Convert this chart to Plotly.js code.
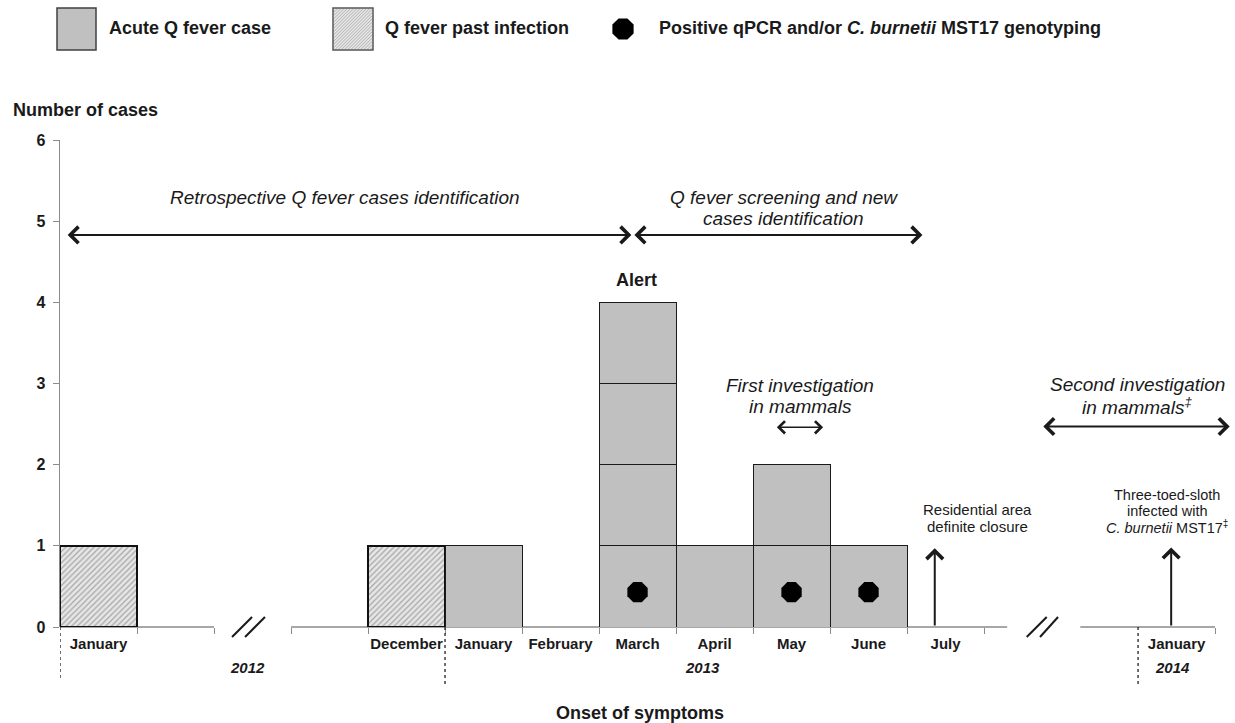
<!DOCTYPE html>
<html><head><meta charset="utf-8">
<script src="https://cdn.plot.ly/plotly-3.0.1.min.js"></script>
<style>html,body{margin:0;padding:0;background:#fff}</style>
</head><body><div id="chart" style="width:1235px;height:723px"></div>
<script>
// ---------------- DATA ----------------
const months = ['2012-01','2012-12','2013-01','2013-02','2013-03','2013-04','2013-05','2013-06','2013-07','2014-01'];
const monthLabels = ['January','December','January','February','March','April','May','June','July','January'];
const acuteCases = [0,0,1,0,4,1,2,1,0,0];
const pastInfections = [1,1,0,0,0,0,0,0,0,0];
const positivePCR = [0,0,0,0,1,0,1,1,0,0];
const yearLabels = ['2012','2013','2014'];
const yTicks = [0,1,2,3,4,5,6];

// ---------------- BROKEN TIME AXIS ----------------
// each axis segment starts at a given month and a given axis offset (1 unit = 1 month)
const segments = [{from:'2012-01', pos:0}, {from:'2012-11', pos:3}, {from:'2013-12', pos:13}];
function mIdx(s){const [y,m]=s.split('-').map(Number);return y*12+(m-1);}
function slotStart(s){
  let seg=segments[0];
  segments.forEach(g=>{ if(mIdx(g.from)<=mIdx(s)) seg=g; });
  return seg.pos + (mIdx(s)-mIdx(seg.from));
}
const xc = months.map(m=>slotStart(m)+0.5);

// ---------------- TRACES ----------------
const FONT = 'Liberation Sans, Arial, sans-serif';
const traces = [];
traces.push({
  type:'bar', x:xc, y:pastInfections.map(v=>v>0?v:null), width:1,
  marker:{color:'#e4e4e4', line:{color:'#111', width:2},
    pattern:{shape:'/', fgcolor:'#a6a6a6', bgcolor:'#e6e6e6', size:4, solidity:0.3}},
  hoverinfo:'skip', showlegend:false
});
const maxAcute = Math.max(...acuteCases);
for(let k=1;k<=maxAcute;k++){
  traces.push({
    type:'bar', x:xc, y:acuteCases.map(c=>c>=k?1:null), width:1,
    marker:{color:'#c0c0c0', line:{color:'#1a1a1a', width:1}},
    hoverinfo:'skip', showlegend:false
  });
}
traces.push({
  type:'scatter', mode:'markers',
  x:xc.filter((_,i)=>positivePCR[i]>0), y:xc.filter((_,i)=>positivePCR[i]>0).map(()=>0.43),
  marker:{symbol:'octagon', size:22, color:'#000', line:{width:0}},
  hoverinfo:'skip', showlegend:false, cliponaxis:false
});

// ---------------- GEOMETRY HELPERS ----------------
const L=60, T=140, PW=1172, PH=487;
const px=x=>(x-L)/PW, py=y=>((T+PH)-y)/PH;

const shapes = [];
// x-axis segments
[[0,2],[3,12.3],[13.25,15]].forEach(s=>shapes.push({type:'line', xref:'x', yref:'paper', x0:s[0], x1:s[1], y0:0, y1:0, line:{color:'#8a8a8a', width:1.5}, layer:'below'}));
// dotted year separators
[[0,-0.107],[5,-0.118],[14,-0.118]].forEach(d=>shapes.push({type:'line', xref:'x', yref:'paper', x0:d[0], x1:d[0], y0:0, y1:d[1], line:{color:'#222', width:1.3, dash:'dot'}}));
// axis break marks
[[2.234,2.494],[2.403,2.662],[12.554,12.814],[12.727,12.961]].forEach(b=>shapes.push({type:'line', xref:'x', yref:'paper', x0:b[0], x1:b[1], y0:-0.0205, y1:0.0205, line:{color:'#1a1a1a', width:2}}));

// legend boxes
shapes.push({type:'rect', xref:'paper', yref:'paper', x0:px(57), x1:px(96), y0:py(50), y1:py(8), fillcolor:'#c0c0c0', line:{color:'#404040', width:1.5}});
shapes.push({type:'rect', xref:'paper', yref:'paper', x0:px(333), x1:px(373), y0:py(50), y1:py(8), fillcolor:'#e4e4e4', line:{color:'#555', width:1.5}});
function hatch(x0,y0,x1,y1,step){
  let p='';
  for(let c=x0+y0+step;c<x1+y1;c+=step){
    const xa=c-y1, xb=c-y0;
    const sx=Math.max(x0,xa), ex=Math.min(x1,xb);
    if(sx>=ex) continue;
    p+=`M${px(sx)},${py(c-sx)}L${px(ex)},${py(c-ex)}`;
  }
  return p;
}
shapes.push({type:'path', xref:'paper', yref:'paper', path:hatch(334,9,372,49,3.2), line:{color:'#a6a6a6', width:0.8}});
// legend marker (octagon)
(function(){
  const cx=623, cy=29, r=11.5; let p='';
  for(let i=0;i<8;i++){const a=Math.PI/8+i*Math.PI/4; p+=(i?'L':'M')+px(cx+r*Math.cos(a))+','+py(cy+r*Math.sin(a));}
  shapes.push({type:'path', xref:'paper', yref:'paper', path:p+'Z', fillcolor:'#000', line:{width:0}});
})();

// ---------------- ANNOTATIONS ----------------
const ann = [];
const TXT = '#1a1a1a';
function txt(x,y,text,size,opts){
  return Object.assign({x:x, y:y, xref:'x', yref:'y', text:text, showarrow:false, font:{family:FONT, size:size, color:TXT}, xanchor:'center', yanchor:'middle'}, opts||{});
}
function lines(x,yTopPx,arr,size,gapPx,style){
  arr.forEach((t,i)=>ann.push(txt(x, (T+PH - (yTopPx+i*gapPx))/ (PH/6), style[0]+t+style[1], size)));
}
function dbl(x0,x1,y,w,s){
  return {x:x1, y:y, ax:x0, ay:y, xref:'x', yref:'y', axref:'x', ayref:'y', text:'', showarrow:true,
    arrowhead:4, startarrowhead:4, arrowside:'end+start', arrowsize:s, startarrowsize:s, arrowwidth:w,
    arrowcolor:'#1a1a1a', standoff:0, startstandoff:0};
}
function up(x,y0,y1){
  return {x:x, y:y1, ax:x, ay:y0, xref:'x', yref:'y', axref:'x', ayref:'y', text:'', showarrow:true,
    arrowhead:4, arrowsize:1.6, arrowwidth:2, arrowcolor:'#1a1a1a', standoff:0};
}
// periods
lines(3.70, 197, ['Retrospective Q fever cases identification'], 19, 21, ['<i>','</i>']);
ann.push(dbl(0.08, 7.42, 4.83, 2, 1.6));
lines(9.40, 197, ['Q fever screening and new','cases identification'], 19, 21, ['<i>','</i>']);
ann.push(dbl(7.44, 11.2, 4.83, 2, 1.6));
ann.push(txt(7.49, 4.27, '<b>Alert</b>', 18));
lines(9.61, 385, ['First investigation','in mammals'], 19, 21, ['<i>','</i>']);
ann.push(dbl(9.29, 9.91, 2.46, 1.5, 1.6));
lines(13.99, 384, ['Second investigation','in mammals<sup>‡</sup>'], 19, 22, ['<i>','</i>']);
ann.push(dbl(12.75, 15.19, 2.47, 2, 1.6));
// events
ann.push(up(11.36, 0, 0.97));
lines(11.92, 509, ['Residential area','definite closure'], 15, 17, ['','']);
ann.push(up(14.43, 0, 0.98));
lines(14.38, 495, ['Three-toed-sloth','infected with','<i>C. burnetii</i> MST17<sup>‡</sup>'], 14.5, 16, ['','']);
// years
[[2.43,0],[8.34,1],[14.45,2]].forEach(a=>ann.push({x:a[0], y:py(678), xref:'x', yref:'paper', text:'<b><i>'+yearLabels[a[1]]+'</i></b>', showarrow:false, font:{family:FONT, size:15, color:TXT}}));
// legend texts
[[107,'Acute Q fever case'],[383,'Q fever past infection'],[657,'Positive qPCR and/or <i>C. burnetii</i> MST17 genotyping']].forEach(l=>
  ann.push({x:px(l[0]), y:py(28), xref:'paper', yref:'paper', xanchor:'left', yanchor:'middle', text:'<b>'+l[1]+'</b>', showarrow:false, font:{family:FONT, size:18, color:TXT}}));
// axis titles
ann.push({x:px(11), y:py(110), xref:'paper', yref:'paper', xanchor:'left', yanchor:'middle', text:'<b>Number of cases</b>', showarrow:false, font:{family:FONT, size:18, color:TXT}});
ann.push({x:px(640), y:py(713), xref:'paper', yref:'paper', xanchor:'center', yanchor:'middle', text:'<b>Onset of symptoms</b>', showarrow:false, font:{family:FONT, size:18, color:TXT}});

const minorTicks = [1,2,3,4,5,6,7,8,9,10,11,12,15];

const layout = {
  width:1235, height:723, paper_bgcolor:'#fff', plot_bgcolor:'rgba(0,0,0,0)',
  margin:{l:L, r:1235-L-PW, t:T, b:723-T-PH, pad:0},
  barmode:'stack', bargap:0, showlegend:false,
  font:{family:FONT, color:TXT},
  xaxis:{range:[0,15.22], showline:false, zeroline:false, showgrid:false, fixedrange:true,
    tickmode:'array', tickvals:xc, ticktext:monthLabels.map(t=>'<b>'+t+'</b>'), ticks:'', ticklabelstandoff:6,
    tickfont:{family:FONT, size:15, color:TXT},
    minor:{tickmode:'array', tickvals:minorTicks, ticks:'outside', ticklen:6, tickcolor:'#8a8a8a', tickwidth:1, showgrid:false}},
  yaxis:{range:[0,6], showline:true, linecolor:'#8a8a8a', linewidth:1.5, zeroline:false, showgrid:false, fixedrange:true,
    tickmode:'array', tickvals:yTicks, ticktext:yTicks.map(v=>'<b>'+v+'</b>'), ticks:'outside', ticklen:6, tickcolor:'#8a8a8a', tickwidth:1,
    tickfont:{family:FONT, size:16, color:TXT}, ticklabelstandoff:4},
  shapes:shapes, annotations:ann
};
Plotly.newPlot('chart', traces, layout, {displayModeBar:false, staticPlot:true});
</script></body></html>
